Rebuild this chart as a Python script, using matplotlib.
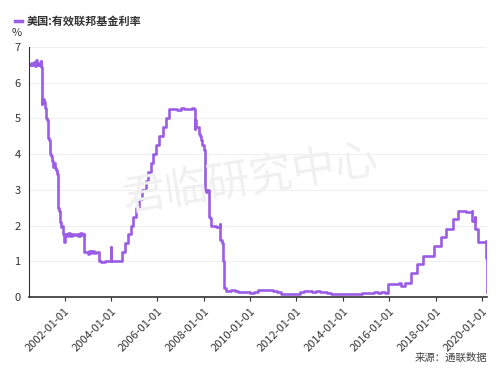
import matplotlib
matplotlib.use("Agg")
import matplotlib.pyplot as plt
import matplotlib.dates as mdates
import pandas as pd

plt.rcParams['font.family'] = ['Noto Sans CJK SC', 'DejaVu Sans']

series_name = "美国:有效联邦基金利率"
source_text = "来源：通联数据"
watermark = "君临研究中心"

dates = [
    "2000-07-01", "2000-07-20", "2000-08-10", "2000-08-31", "2000-09-20", "2000-10-05",
    "2000-10-25", "2000-11-15", "2000-12-01", "2000-12-20", "2000-12-29",
    "2001-01-04", "2001-01-10", "2001-01-16", "2001-01-31", "2001-02-15", "2001-03-01",
    "2001-03-20", "2001-03-25", "2001-04-10", "2001-04-19", "2001-05-01", "2001-05-16",
    "2001-05-31", "2001-06-15", "2001-06-28", "2001-07-15", "2001-08-01", "2001-08-22",
    "2001-09-10", "2001-09-18", "2001-09-28", "2001-10-03", "2001-10-20", "2001-11-07",
    "2001-11-20", "2001-12-12", "2001-12-31", "2002-01-05",
    "2002-02-01", "2002-03-01", "2002-04-01", "2002-05-01", "2002-06-01", "2002-07-01",
    "2002-08-01", "2002-09-01", "2002-10-01", "2002-11-06", "2002-11-08",
    "2002-12-31", "2003-01-15", "2003-02-15", "2003-03-15", "2003-04-15", "2003-05-15",
    "2003-06-25", "2003-06-27", "2003-08-01", "2003-10-01", "2003-12-30", "2003-12-31",
    "2004-01-02", "2004-03-01", "2004-06-29", "2004-07-01", "2004-08-10", "2004-09-21",
    "2004-11-10", "2004-12-14", "2005-02-02", "2005-03-22", "2005-05-03", "2005-06-30",
    "2005-08-09", "2005-09-20", "2005-11-01", "2005-12-13", "2006-01-31", "2006-03-28",
    "2006-05-10", "2006-06-29", "2006-09-01", "2006-11-01", "2007-01-02", "2007-03-01",
    "2007-05-01", "2007-07-02", "2007-08-09", "2007-08-10", "2007-08-20", "2007-09-01",
    "2007-09-18", "2007-10-15", "2007-10-31", "2007-11-20", "2007-12-11", "2008-01-10",
    "2008-01-22", "2008-01-31", "2008-02-20", "2008-03-18", "2008-04-10", "2008-04-30",
    "2008-06-01", "2008-07-15", "2008-09-15", "2008-09-20", "2008-10-08", "2008-10-29",
    "2008-11-15", "2008-12-16", "2009-01-15", "2009-03-01", "2009-05-01", "2009-07-01",
    "2009-09-01", "2009-11-01", "2010-01-01", "2010-03-01", "2010-05-01", "2010-07-01",
    "2010-09-01", "2010-11-01", "2011-01-01", "2011-03-01", "2011-05-01", "2011-07-01",
    "2011-09-01", "2011-11-01", "2012-01-01", "2012-03-01", "2012-05-01", "2012-07-01",
    "2012-09-01", "2012-11-01", "2013-01-01", "2013-03-01", "2013-05-01", "2013-07-01",
    "2013-09-01", "2013-11-01", "2014-01-01", "2014-03-01", "2014-05-01", "2014-07-01",
    "2014-09-01", "2014-11-01", "2015-01-01", "2015-03-01", "2015-05-01", "2015-07-01",
    "2015-09-01", "2015-11-01", "2015-12-16", "2015-12-17", "2016-03-01", "2016-06-01",
    "2016-06-30", "2016-09-01", "2016-12-14", "2016-12-15", "2017-03-15", "2017-03-16",
    "2017-06-14", "2017-06-15", "2017-09-29", "2017-12-13", "2017-12-14", "2018-03-21",
    "2018-03-22", "2018-06-13", "2018-06-14", "2018-09-26", "2018-09-27", "2018-12-19",
    "2018-12-20", "2019-03-01", "2019-05-01", "2019-07-31", "2019-08-01", "2019-09-17",
    "2019-09-19", "2019-10-30", "2019-10-31", "2019-12-31", "2020-03-03", "2020-03-04",
    "2020-03-16", "2020-03-17",
]

rates = [
    6.50, 6.55, 6.48, 6.58, 6.47, 6.62,
    6.50, 6.56, 6.49, 6.60, 6.45,
    5.40, 6.00, 5.50, 5.55, 5.45, 5.30,
    5.00, 4.95, 4.90, 4.45, 4.40, 4.00,
    3.95, 3.80, 3.65, 3.75, 3.60, 3.55,
    3.45, 2.50, 2.40, 2.40, 2.10, 1.95,
    2.00, 1.75, 1.55, 1.75,
    1.72, 1.78, 1.70, 1.77, 1.74, 1.76,
    1.72, 1.78, 1.74, 1.75, 1.25,
    1.20, 1.28, 1.22, 1.30, 1.24, 1.26,
    1.22, 1.00, 0.98, 1.02, 1.00, 1.40,
    1.00, 1.01, 1.00, 1.25, 1.50, 1.75,
    2.00, 2.25, 2.50, 2.75, 3.00, 3.25,
    3.50, 3.75, 4.00, 4.25, 4.50, 4.75,
    5.00, 5.25, 5.27, 5.24, 5.30, 5.25,
    5.26, 5.28, 5.25, 4.70, 4.95, 4.75,
    4.75, 4.55, 4.50, 4.40, 4.25, 4.10,
    3.00, 2.95, 3.00, 2.25, 2.20, 2.00,
    2.00, 1.95, 2.05, 1.60, 1.50, 1.00,
    0.25, 0.16, 0.18, 0.20, 0.18, 0.15,
    0.13, 0.14, 0.12, 0.14, 0.20, 0.19,
    0.20, 0.19, 0.17, 0.13, 0.09, 0.08,
    0.08, 0.09, 0.08, 0.14, 0.16, 0.17,
    0.15, 0.16, 0.14, 0.15, 0.10, 0.09,
    0.08, 0.09, 0.07, 0.08, 0.09, 0.09,
    0.09, 0.10, 0.12, 0.11, 0.13, 0.12,
    0.14, 0.12, 0.13, 0.37, 0.37, 0.38,
    0.30, 0.40, 0.41, 0.66, 0.66, 0.91,
    0.91, 1.16, 1.15, 1.16, 1.42, 1.42,
    1.68, 1.70, 1.91, 1.92, 2.18, 2.20,
    2.40, 2.41, 2.38, 2.40, 2.13, 2.25,
    1.90, 1.83, 1.55, 1.55, 1.58, 1.10,
    1.10, 0.15,
]

df = pd.DataFrame({"date": pd.to_datetime(dates), "rate": rates})

fig = plt.figure(figsize=(5, 3.75), dpi=100)
ax = fig.add_axes([0.058, 0.208, 0.916, 0.667])

ax.plot(df["date"], df["rate"], color="#9b5de5", lw=1.9, drawstyle="steps-post")

ax.set_ylim(0, 7)
ax.set_yticks(range(0, 8))
ax.set_xlim(pd.Timestamp("2000-06-20"), pd.Timestamp("2020-03-20"))
ax.xaxis.set_major_locator(mdates.YearLocator(2))
ax.xaxis.set_major_formatter(mdates.DateFormatter("%Y-%m-%d"))
plt.setp(ax.get_xticklabels(), rotation=45, ha="right", rotation_mode="anchor")

ax.grid(axis="y", color="#f0f0f0", lw=0.8)
ax.set_axisbelow(True)
for s in ["top", "right"]:
    ax.spines[s].set_visible(False)
ax.spines["left"].set_color("#333333")
ax.spines["bottom"].set_color("#333333")
ax.spines["bottom"].set_linewidth(1.2)
ax.tick_params(axis="x", labelsize=8, colors="#333333", length=3)
ax.tick_params(axis="y", labelsize=8, colors="#333333", length=0, pad=6)

fig.text(0.034, 0.912, "%", fontsize=8, color="#333333", ha="center", va="center")
fig.lines.append(plt.Line2D([0.030, 0.044], [0.943, 0.943], color="#9b5de5", lw=2.5,
                            transform=fig.transFigure))
fig.text(0.054, 0.943, series_name, fontsize=8, fontweight="bold", color="#333333",
         va="center")
fig.text(0.50, 0.52, watermark, fontsize=31, color="#f0f0f0", rotation=9,
         ha="center", va="center", fontstyle="italic", zorder=0)
fig.text(0.975, 0.045, source_text, fontsize=7.5, color="#444444", ha="right",
         va="center")

fig.savefig("out.png", dpi=100)
